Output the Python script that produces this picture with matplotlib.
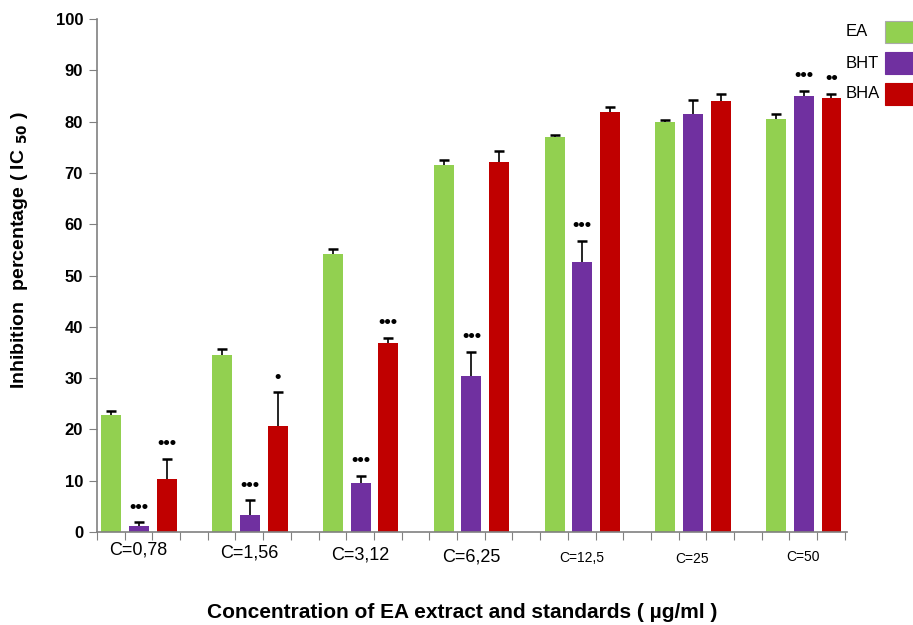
import matplotlib
matplotlib.use("Agg")
import matplotlib.pyplot as plt
import numpy as np
from matplotlib.patches import Rectangle

categories = ["C=0,78", "C=1,56", "C=3,12", "C=6,25", "C=12,5", "C=25", "C=50"]
series = ["EA", "BHT", "BHA"]
ea = [22.8, 34.6, 54.2, 71.5, 77.0, 80.0, 80.6]
ea_err = [0.7, 1.0, 1.0, 1.0, 0.3, 0.3, 0.8]
bht = [1.1, 3.4, 9.6, 30.5, 52.7, 81.4, 85.0]
bht_err = [0.8, 2.8, 1.4, 4.6, 4.0, 2.8, 1.0]
bha = [10.3, 20.7, 36.8, 72.2, 81.8, 84.0, 84.6]
bha_err = [4.0, 6.5, 1.0, 2.0, 1.0, 1.3, 0.8]
# significance marks (per series per category)
bht_sig = ["•••", "•••", "•••", "•••", "•••", "", "•••"]
bha_sig = ["•••", "•", "•••", "", "", "", "••"]
yticks = list(range(0, 101, 10))

colors = ["#92D050", "#7030A0", "#C00000"]
W, H = 913, 625
fig = plt.figure(figsize=(W / 100, H / 100), dpi=100)
ax = fig.add_axes([97 / W, (H - 532) / H, 750 / W, (532 - 19) / H])

font = "Liberation Sans"
vals = [ea, bht, bha]
errs = [ea_err, bht_err, bha_err]
sigs = [None, bht_sig, bha_sig]
bw = 0.72
for j in range(3):
    x = np.arange(len(categories)) * 4 + j + 0.52
    v = np.array(vals[j]); e = np.array(errs[j])
    ax.bar(x, v, width=bw, color=colors[j], zorder=2)
    ax.vlines(x, v, v + e, color="black", linewidth=1.2, zorder=3)
    ax.plot(x, v + e, linestyle="none", marker="_", markersize=7,
            markeredgewidth=1.8, color="black", zorder=3)
    if sigs[j] is not None:
        for xi, vi, ei, s in zip(x, v, e, sigs[j]):
            if s:
                ax.text(xi, vi + ei + 1.3, s, ha="center", va="bottom",
                        fontsize=13, fontweight="bold", family=font)

ax.set_xlim(0, 27.08)
ax.set_ylim(0, 100)
ax.set_yticks(yticks)
ax.set_yticklabels([str(t) for t in yticks], family=font, fontsize=12, fontweight="bold")
ax.set_xticks(np.arange(0, 28, 1))
ax.set_xticklabels([])
ax.tick_params(axis="x", length=6, color="#808080", direction="out")
ax.tick_params(axis="y", length=6, color="#808080", direction="out", pad=4)
for s in ["top", "right"]:
    ax.spines[s].set_visible(False)
for s in ["left", "bottom"]:
    ax.spines[s].set_color("#808080")
    ax.spines[s].set_linewidth(1.2)

# category labels (irregular positions as in reference)
lab_y = [-3.6, -4.0, -4.4, -4.8, -5.0, -5.3, -4.8]
lab_fs = [13, 13, 13, 13, 10, 10, 10]
for i, c in enumerate(categories):
    ax.text(i * 4 + 1.5, lab_y[i], c, ha="center", va="center",
            fontsize=lab_fs[i], family=font, clip_on=False)

fig.text(20 / W, 1 - 250 / H, "Inhibition  percentage ( IC $_{\\mathbf{50}}$ )", rotation=90,
         ha="center", va="center", fontsize=14, fontweight="bold", family=font)
fig.text(462 / W, 1 - 612 / H, "Concentration of EA extract and standards ( µg/ml )",
         ha="center", va="center", fontsize=15, fontweight="bold", family=font)

# legend
leg_y = [32, 63, 94]
for j, name in enumerate(series):
    fig.text(846 / W, 1 - leg_y[j] / H, name, ha="left", va="center",
             fontsize=12, family=font)
    fig.patches.append(Rectangle((885 / W, 1 - (leg_y[j] + 11) / H), 30 / W, 22 / H,
                                 transform=fig.transFigure, facecolor=colors[j],
                                 edgecolor="#aaaaaa" if j == 0 else colors[j], linewidth=0.8))

fig.savefig("out.png", dpi=100)
